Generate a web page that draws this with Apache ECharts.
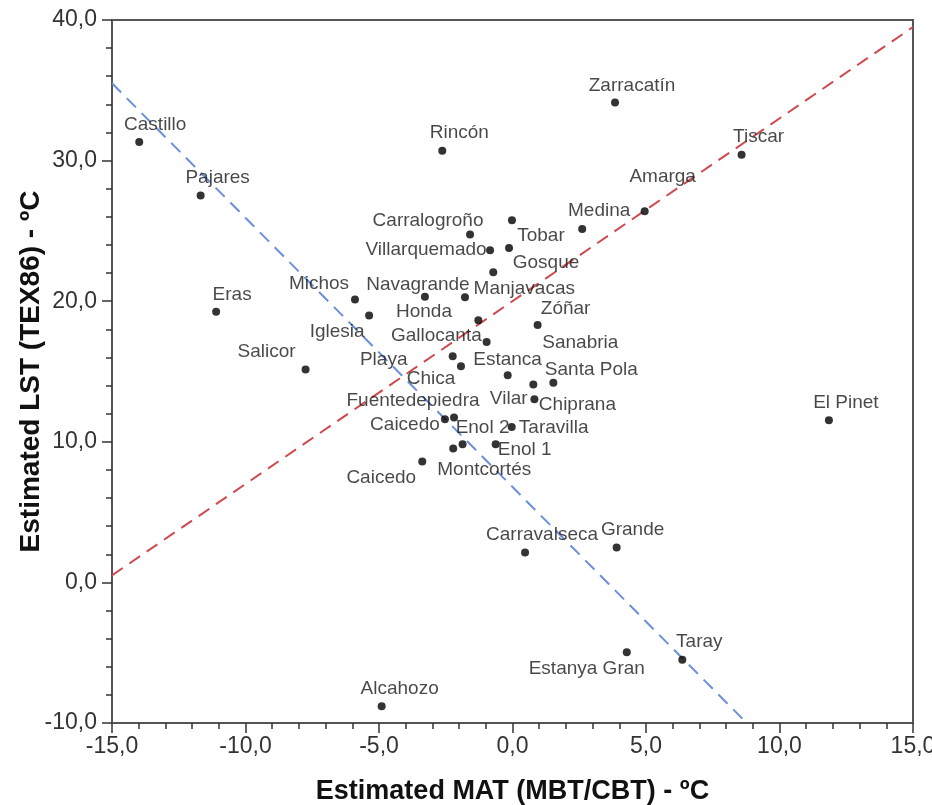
<!DOCTYPE html>
<html>
<head>
<meta charset="utf-8">
<script src="https://cdn.jsdelivr.net/npm/echarts@6/dist/echarts.min.js"></script>
<style>
  html, body { margin: 0; padding: 0; background: #fff; }
  #chart { width: 932px; height: 805px; }
</style>
</head>
<body>
<div id="chart"></div>
<script>
// Lake sites: estimated MAT (MBT/CBT) vs estimated LST (TEX86), both in ºC
const sites = [
  'Castillo', 'Pajares', 'Rincón', 'Zarracatín', 'Tiscar', 'Amarga', 'Medina',
  'Tobar', 'Carralogroño', 'Villarquemado', 'Gosque', 'Manjavacas', 'Eras',
  'Michos', 'Iglesia', 'Salicor', 'Navagrande', 'Honda', 'Gallocanta', 'Zóñar',
  'Estanca', 'Playa', 'Chica', 'Vilar', 'Sanabria', 'Santa Pola', 'Chiprana',
  'Caicedo', 'Fuentedepiedra', 'Taravilla', 'Enol 2', 'Montcortés', 'Enol 1',
  'Caicedo', 'El Pinet', 'Carravalseca', 'Grande', 'Estanya Gran', 'Taray', 'Alcahozo'
];
const matValues = [
  -13.98, -11.68, -2.63, 3.84, 8.58, 4.95, 2.61,
  -0.02, -1.59, -0.84, -0.13, -0.72, -11.10,
  -5.90, -5.37, -7.75, -3.28, -1.78, -1.28, 0.94,
  -0.97, -2.24, -1.93, -0.18, 0.78, 1.53, 0.82,
  -2.53, -2.19, -0.03, -1.87, -2.22, -0.63,
  -3.38, 11.85, 0.47, 3.90, 4.28, 6.36, -4.90
];
const lstValues = [
  31.32, 27.51, 30.70, 34.13, 30.42, 26.39, 25.14,
  25.75, 24.74, 23.62, 23.79, 22.06, 19.25,
  20.12, 18.98, 15.15, 20.31, 20.28, 18.65, 18.30,
  17.09, 16.09, 15.38, 14.74, 14.08, 14.20, 13.02,
  11.60, 11.72, 11.05, 9.82, 9.52, 9.82,
  8.59, 11.53, 2.13, 2.49, -4.97, -5.50, -8.81
];

// Reference lines (x, y) pairs
const redLineX = [-15, 15];
const redLineY = [0.5, 39.5];
const blueLineX = [-15, 8.77];
const blueLineY = [35.5, -10];

// Tick values
const xTicks = [-15, -10, -5, 0, 5, 10, 15];
const yTicks = [-10, 0, 10, 20, 30, 40];

// Label placement around each point, in px (dx, dy from the point centre)
const labelOffsets = [
  [16, -17], [17, -18], [17, -18], [17, -17], [17, -18], [18, -35], [17, -18],
  [29, 15], [-42, -14], [-64, -1], [37, 15], [31, 17], [16, -17],
  [-36, -16], [-32, 16], [-39, -18], [-7, -12], [-41, 15], [-42, 16], [28, -16],
  [21, 18], [-69, 4], [-30, 13], [1, 24], [47, -42], [38, -13], [43, 5],
  [-40, 5], [-41, -17], [42, 1], [20, -17], [31, 21], [29, 5],
  [-41, 16], [17, -18], [17, -18], [16, -18], [-40, 16], [17, -18], [18, -18]
];

const FONT = "'Liberation Sans', Arial, sans-serif";
const SYMBOL = 8;
const fmt = v => v.toFixed(1).replace('.', ',');

const points = sites.map((name, i) => ({
  name: name,
  value: [matValues[i], lstValues[i]],
  label: {
    // position is measured from the symbol's top-left corner
    position: [SYMBOL / 2 + labelOffsets[i][0], SYMBOL / 2 + labelOffsets[i][1]]
  }
}));

const chart = echarts.init(document.getElementById('chart'), null, { renderer: 'canvas' });

const axisCommon = {
  axisLine: { show: true, onZero: false, lineStyle: { color: '#555', width: 2 } },
  axisTick: { show: true, inside: false, length: 10, lineStyle: { color: '#333', width: 1.5 } },
  minorTick: { show: true, splitNumber: 5, length: 6, lineStyle: { color: '#333', width: 1.5 } },
  splitLine: { show: false },
  axisLabel: {
    color: '#333', fontSize: 23, fontFamily: FONT,
    formatter: fmt
  },
  nameLocation: 'middle',
  nameMoveOverlap: false,
  nameTextStyle: { color: '#111', fontSize: 27, fontWeight: 'bold', fontFamily: FONT }
};

chart.setOption({
  animation: false,
  backgroundColor: '#fff',
  grid: {
    left: 112, right: 19, top: 20, bottom: 82,
    outerBoundsMode: 'none',
    containLabel: false,
    show: true, borderColor: '#555', borderWidth: 2, backgroundColor: 'transparent'
  },
  xAxis: Object.assign({}, axisCommon, {
    type: 'value',
    min: xTicks[0], max: xTicks[xTicks.length - 1], interval: 5,
    name: 'Estimated MAT (MBT/CBT) - ºC',
    nameGap: 55,
    axisLabel: Object.assign({}, axisCommon.axisLabel, { margin: 12 })
  }),
  yAxis: Object.assign({}, axisCommon, {
    type: 'value',
    min: yTicks[0], max: yTicks[yTicks.length - 1], interval: 10,
    name: 'Estimated LST (TEX86) - ºC',
    nameGap: 67,
    nameTextStyle: Object.assign({}, axisCommon.nameTextStyle, { fontSize: 28 }),
    axisLabel: Object.assign({}, axisCommon.axisLabel, { margin: 15 })
  }),
  series: [
    {
      type: 'line',
      data: redLineX.map((x, i) => [x, redLineY[i]]),
      symbol: 'none',
      silent: true,
      lineStyle: { color: '#cf4a4f', width: 2, type: [13, 8] },
      z: 1
    },
    {
      type: 'line',
      data: blueLineX.map((x, i) => [x, blueLineY[i]]),
      symbol: 'none',
      silent: true,
      lineStyle: { color: '#6c8fd9', width: 2, type: [13, 8] },
      z: 1
    },
    {
      type: 'scatter',
      data: points,
      symbol: 'circle',
      symbolSize: SYMBOL,
      itemStyle: { color: '#000' },
      label: {
        show: true,
        formatter: p => p.name,
        color: '#1a1a1a',
        fontSize: 19,
        fontFamily: FONT,
        align: 'center',
        verticalAlign: 'middle'
      },
      z: 3
    }
  ]
});
</script>
</body>
</html>
